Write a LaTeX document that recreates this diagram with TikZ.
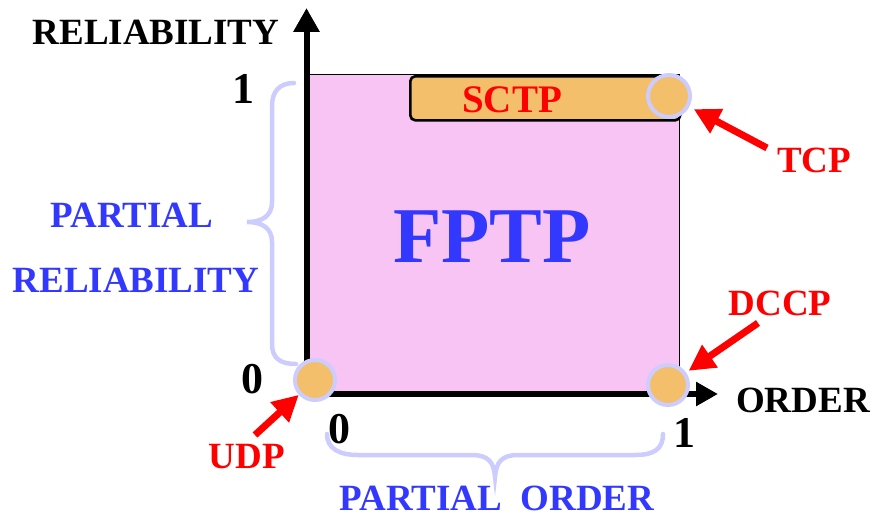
\documentclass[tikz,border=0pt]{standalone}
\usepackage{fontspec}
\setmainfont{Liberation Serif}
\usetikzlibrary{arrows.meta}
\definecolor{pinkfill}{HTML}{F8C4F4}
\definecolor{orangefill}{HTML}{F4BF6B}
\definecolor{lavender}{HTML}{CCCCFF}
\definecolor{bluetext}{HTML}{3338FF}
\definecolor{redtext}{HTML}{FF0000}
\tikzset{
  lbl/.style={inner sep=0pt, anchor=base, font=\fontsize{37}{40}\selectfont\bfseries},
  axislbl/.style={lbl, text=black},
  numlbl/.style={inner sep=0pt, anchor=base, font=\fontsize{44}{48}\selectfont\bfseries, text=black},
  bluelbl/.style={lbl, text=bluetext},
  redlbl/.style={lbl, text=redtext},
  proto/.style={circle, draw=lavender, fill=orangefill, line width=4pt, minimum size=40pt, inner sep=0pt},
  redarrow/.style={draw=redtext, line width=7pt, -{Triangle[length=26pt,width=26pt]}},
  axisline/.style={draw=black, line width=6pt, line join=miter,
     {Triangle[length=24pt,width=25pt]}-{Triangle[length=22pt,width=23pt]}},
  bracepath/.style={draw=lavender, line width=4.5pt, line cap=round},
  sctpbox/.style={draw=black, fill=orangefill, line width=2.6pt, rounded corners=5pt, inner sep=0pt}
}
\begin{document}
\begin{tikzpicture}[x=1pt,y=-1pt]
\useasboundingbox (0,0) rectangle (875,519);
% region
\node[fill=pinkfill, draw=black, line width=0.8pt, inner sep=0pt, minimum width=372.5pt, minimum height=320pt, anchor=north west] (region) at (306.5,74) {};
% SCTP box
\node[sctpbox, minimum width=270pt, minimum height=44pt, anchor=north west] (sctp) at (409,75) {};
\node[redlbl, font=\fontsize{39}{42}\selectfont\bfseries] (sctplbl) at (512,112) {SCTP};
% axes
\coordinate (O) at (306.5,394);
\coordinate (ytip) at (306.5,8);
\coordinate (xtip) at (718,394);
\draw[axisline] (ytip) -- (O) -- (xtip);
% braces
\draw[bracepath] (294,83) .. controls (279,83) and (272,92) .. (272,106) -- (272,202)
   .. controls (272,216) and (262,222) .. (247,222)
   .. controls (262,222) and (272,228) .. (272,242) -- (272,344)
   .. controls (272,358) and (280,364) .. (296,364);
\draw[bracepath] (327,434) .. controls (327,449) and (340,455) .. (358,455) -- (472,455)
   .. controls (488,455) and (494,462) .. (495,477)
   .. controls (496,462) and (502,455) .. (518,455) -- (635,455)
   .. controls (654,455) and (663,449) .. (663,434);
% protocol points
\node[proto, minimum size=42pt] (tcp) at (669,96) {};
\node[proto] (dccp) at (668,385) {};
\node[proto] (udp) at (315,380) {};
% labels
\node[axislbl] (rel) at (156,45) {RELIABILITY};
\node[axislbl] (ord) at (803,412) {ORDER};
\node[numlbl] (y1) at (243,103) {1};
\node[numlbl] (y0) at (252,393) {0};
\node[numlbl] (x0) at (339,443) {0};
\node[numlbl] (x1) at (684,447) {1};
\node[bluelbl, font=\fontsize{79}{84}\selectfont\bfseries] (fptp) at (492,262) {FPTP};
\node[bluelbl] (pr1) at (132,227) {PARTIAL};
\node[bluelbl] (pr2) at (136,292) {RELIABILITY};
\node[bluelbl] (po) at (497,510) {PARTIAL\ \ ORDER};
\node[redlbl] (tcplbl) at (814,172) {TCP};
\node[redlbl] (dccplbl) at (780,315) {DCCP};
\node[redlbl] (udplbl) at (247,468) {UDP};
% arrows
\coordinate (tcpT) at (767,148);
\coordinate (dccpT) at (758,323);
\coordinate (udpT) at (255,435);
\draw[redarrow, shorten >=5pt] (tcpT) -- (tcp);
\draw[redarrow, shorten >=3pt] (dccpT) -- (dccp);
\draw[redarrow] (udpT) -- (udp);
\end{tikzpicture}
\end{document}
